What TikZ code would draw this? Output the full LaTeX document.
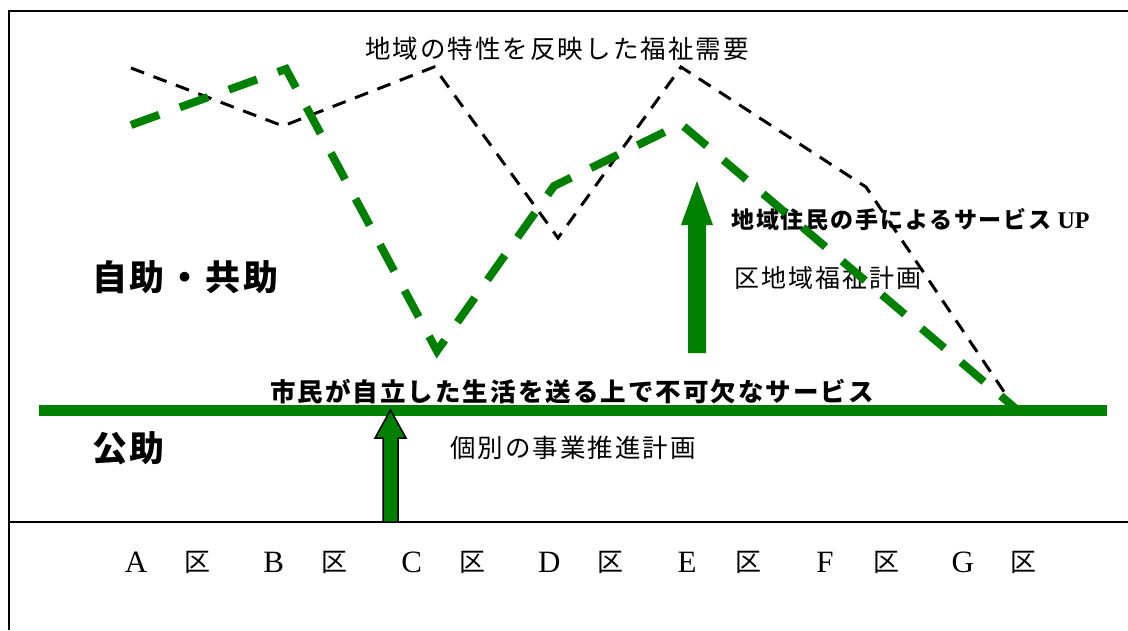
\documentclass[tikz,border=0pt]{standalone}
\usepackage{fontspec}
\setmainfont{Liberation Serif}
\newfontfamily\jp[LetterSpace=8]{Noto Sans CJK JP}
\newfontfamily\jpk{Noto Sans CJK JP}
\definecolor{dgreen}{HTML}{008000}
\tikzset{
  lbl/.style={inner sep=0pt, anchor=west},
  blackdash/.style={black, line width=3pt, dash pattern=on 14pt off 10pt},
  greendash/.style={dgreen, line width=8pt, dash pattern=on 30pt off 22pt},
  letter/.style={inner sep=0pt, font=\rmfamily\fontsize{31}{34}\selectfont},
  ku/.style={inner sep=0pt, font=\jpk\fontsize{26}{30}\selectfont},
}
\begin{document}
\begin{tikzpicture}[x=1pt,y=-1pt]
\useasboundingbox (0,0) rectangle (1128,630);
% frame
\draw[line width=2.5pt] (9,630) -- (9,11) -- (1128,11);
\draw[line width=2pt] (9,522) -- (1128,522);
% texts
\node[lbl, font=\jp\fontsize{25.5}{30}\selectfont] (need) at (365,49) {地域の特性を反映した福祉需要};
\node[lbl, font=\jp\bfseries\fontsize{35}{40}\selectfont] (jijo) at (92,277) {自助・共助};
\node[lbl, font=\jp\bfseries\fontsize{35}{40}\selectfont] (kojo) at (92,448) {公助};
\node[lbl, font=\jp\bfseries\fontsize{25.5}{30}\selectfont] (base) at (270,392) {市民が自立した生活を送る上で不可欠なサービス};
\node[lbl, font=\jp\fontsize{25.5}{30}\selectfont] (kobetsu) at (450,448) {個別の事業推進計画};
\node[lbl, font=\jp\fontsize{25}{30}\selectfont] (kuplan) at (734,278) {区地域福祉計画};
\node[lbl, font=\jp\bfseries\fontsize{23}{28}\selectfont] (up) at (731,220) {地域住民の手によるサービス\hspace{6pt}{\rmfamily\bfseries\fontsize{24}{28}\selectfont UP}};
% bottom labels
\foreach \L [count=\i from 0] in {A,B,C,D,E,F,G} {
  \node[letter] (L\L) at ({136+137.8*\i},562) {\L};
  \node[ku] (K\L) at ({197+137.8*\i},562) {区};
}
% base line
\coordinate (g0) at (39,410);
\coordinate (g1) at (1107,410);
\draw[dgreen, line width=11pt] (g0) -- (g1);
% curve points
\coordinate (b1) at (131,68);
\coordinate (b2) at (283,126);
\coordinate (b3) at (434,67);
\coordinate (b4) at (558,238);
\coordinate (b5) at (681,67);
\coordinate (b6) at (866,187);
\coordinate (b7) at (1015,408);
\coordinate (c1) at (131,125);
\coordinate (c2) at (286,69);
\coordinate (c3) at (437,351);
\coordinate (c4) at (554,186);
\coordinate (c5) at (681,124);
\coordinate (c6) at (1015,408);
\draw[blackdash] (b1) -- (b2) -- (b3) -- (b4) -- (b5) -- (b6) -- (b7);
\draw[greendash] (c1) -- (c2) -- (c3) -- (c4) -- (c5) -- (c6);
% big arrow
\fill[dgreen] (688,353) -- (688,225) -- (681,225) -- (697,181) -- (713,225) -- (706,225) -- (706,353) -- cycle;
% small arrow
\filldraw[fill=dgreen, draw=black, line width=1.5pt, line join=miter] (383,522) -- (383,438) -- (375,438) -- (390.5,410) -- (406,438) -- (398,438) -- (398,522) -- cycle;
\end{tikzpicture}
\end{document}
